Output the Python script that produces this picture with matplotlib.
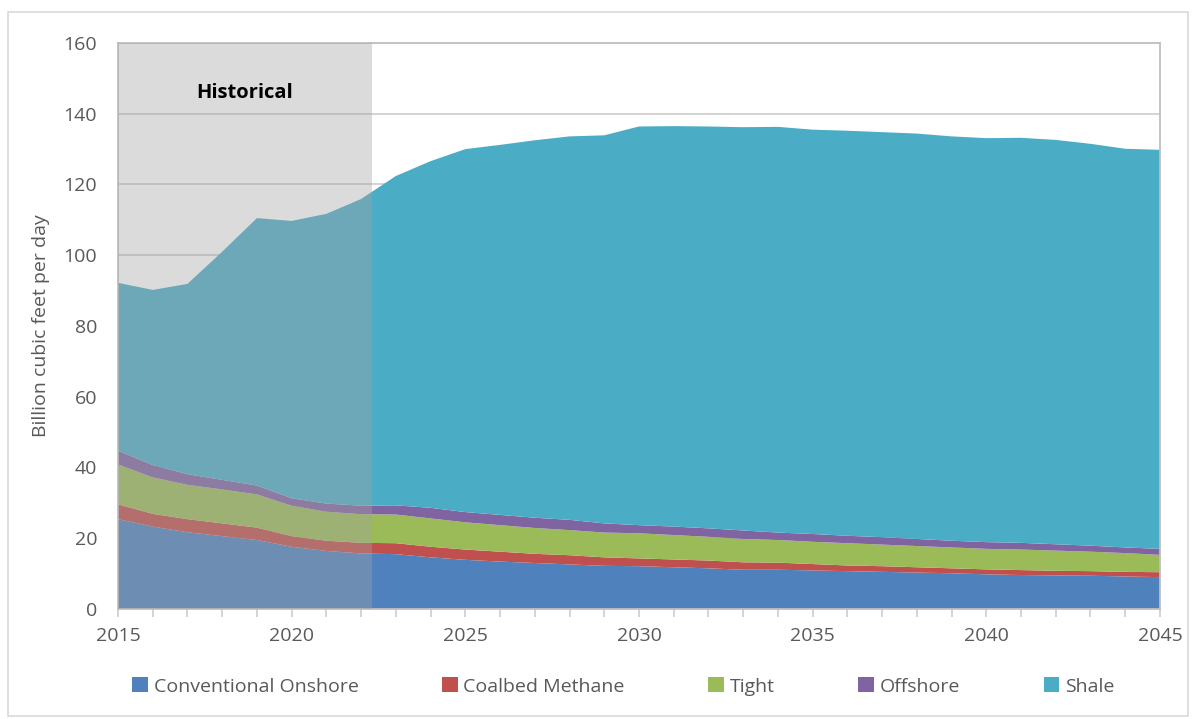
import matplotlib.pyplot as plt
import numpy as np
from matplotlib.patches import Rectangle

years = list(range(2015, 2046))

# billion cubic feet per day
conventional = [25.4, 23.3, 21.7, 20.6, 19.5, 17.6, 16.4, 15.7, 15.5, 14.6,
                13.9, 13.4, 13.0, 12.6, 12.2, 12.1, 11.8, 11.5, 11.1, 11.1,
                10.9, 10.7, 10.5, 10.3, 10.1, 9.8, 9.6, 9.5, 9.4, 9.2, 9.0]
coalbed = [4.2, 3.6, 3.7, 3.6, 3.5, 3.0, 2.9, 3.0, 3.1, 3.0,
           2.9, 2.8, 2.6, 2.6, 2.4, 2.2, 2.2, 2.2, 2.1, 2.0,
           1.8, 1.6, 1.6, 1.5, 1.4, 1.4, 1.4, 1.3, 1.3, 1.3, 1.4]
tight = [11.3, 10.3, 9.7, 9.6, 9.4, 8.6, 8.2, 8.1, 8.1, 8.0,
         7.7, 7.5, 7.3, 7.1, 7.0, 7.1, 6.9, 6.7, 6.6, 6.4,
         6.3, 6.3, 6.1, 6.0, 5.9, 5.8, 5.8, 5.7, 5.5, 5.3, 4.9]
offshore = [3.8, 3.5, 3.0, 2.7, 2.5, 2.1, 2.3, 2.4, 2.6, 3.0,
            2.9, 2.9, 2.9, 2.9, 2.6, 2.3, 2.4, 2.4, 2.4, 2.1,
            2.2, 2.1, 2.1, 2.0, 1.9, 1.9, 1.9, 1.8, 1.7, 1.6, 1.7]
shale = [47.5, 49.5, 53.8, 64.5, 75.6, 78.4, 81.9, 86.7, 93.1, 98.0,
         102.6, 104.6, 106.7, 108.4, 109.7, 112.7, 113.2, 113.6, 114.0, 114.7,
         114.3, 114.5, 114.5, 114.6, 114.3, 114.2, 114.5, 114.3, 113.6, 112.7, 112.8]

labels = ["Conventional Onshore", "Coalbed Methane", "Tight", "Offshore", "Shale"]
colors = ["#4F81BD", "#C0504D", "#9BBB59", "#8064A2", "#4BACC6"]

hist_end = 2022.3

plt.rcParams['font.family'] = ['Open Sans', 'DejaVu Sans']

fig = plt.figure(figsize=(11.93, 7.19), dpi=100)
ax = fig.add_axes([0.0989, 0.1530, 0.8734, 0.7872])

# outer chart border
fig.patches.append(Rectangle((8 / 1193, 3 / 719), 1180 / 1193, 704 / 719,
                             transform=fig.transFigure, fill=False,
                             edgecolor="#D9D9D9", linewidth=1.2))

ax.set_axisbelow(True)
ax.grid(axis='y', color="#D0D0D0", linewidth=1.3)

ax.stackplot(years, conventional, coalbed, tight, offshore, shale,
             colors=colors, labels=labels, linewidth=0, zorder=2)

# historical shading sits over the areas
ax.axvspan(2015, hist_end, color="#A2A2A2", alpha=0.385, linewidth=0, zorder=3)
ax.text(2018.65, 146, "Historical", ha='center', va='center',
        fontsize=14.5, fontweight='bold', color='black', zorder=4)

ax.set_xlim(2015, 2045)
ax.set_ylim(0, 160)
ax.set_yticks(np.arange(0, 161, 20))
ax.set_xticks(np.arange(2015, 2046, 5))
ax.set_xticks(years, minor=True)
ax.tick_params(axis='x', which='both', direction='out', length=6, width=1.3,
               color="#D0D0D0", labelsize=14, labelcolor="#595959", pad=7)
ax.tick_params(axis='y', length=0, labelsize=14, labelcolor="#595959", pad=15)

for s in ax.spines.values():
    s.set_color("#BFBFBF")
    s.set_linewidth(1.3)

ax.set_ylabel("Billion cubic feet per day", fontsize=14, color="#595959", labelpad=10)

leg = ax.legend(loc='upper center', bbox_to_anchor=(0.485, -0.09), ncol=5,
                frameon=False, fontsize=14, handlelength=0.8, handleheight=0.8,
                handletextpad=0.3, columnspacing=4.3, labelcolor="#595959")

fig.savefig("out.png", dpi=100)
